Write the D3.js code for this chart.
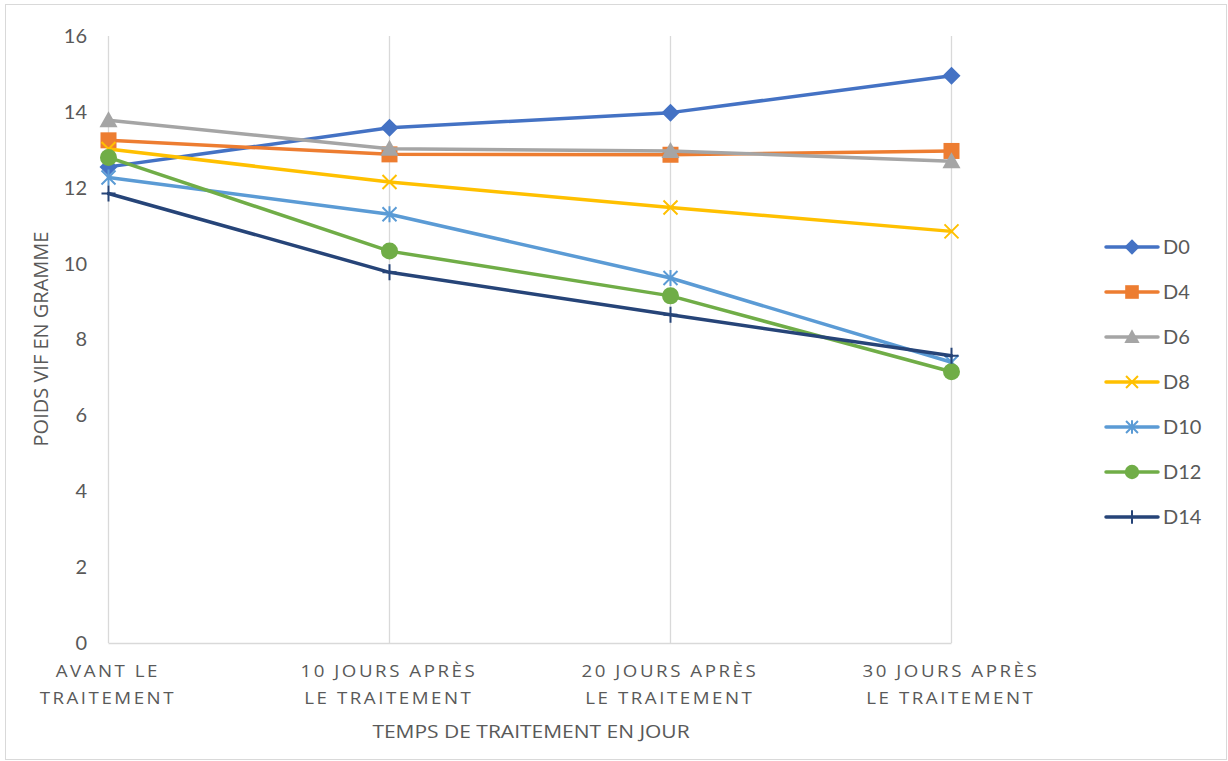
<!DOCTYPE html>
<html>
<head>
<meta charset="utf-8">
<script src="https://cdn.jsdelivr.net/npm/d3@7"></script>
<style>
  html, body { margin: 0; padding: 0; background: #fff; }
  svg { display: block; font-family: Lato, "Open Sans", sans-serif; }
</style>
</head>
<body>
<svg id="chart" width="1228" height="761"></svg>
<script>
// Time points (x categories), each split over two lines
const categories = [
  ["AVANT LE", "TRAITEMENT"],
  ["10 JOURS APRÈS", "LE TRAITEMENT"],
  ["20 JOURS APRÈS", "LE TRAITEMENT"],
  ["30 JOURS APRÈS", "LE TRAITEMENT"]
];
const seriesNames = ["D0", "D4", "D6", "D8", "D10", "D12", "D14"];
// Live weight (g) per dose group at each time point
const D0  = [12.55, 13.58, 13.98, 14.95];
const D4  = [13.25, 12.88, 12.87, 12.97];
const D6  = [13.78, 13.03, 12.97, 12.70];
const D8  = [13.02, 12.15, 11.48, 10.85];
const D10 = [12.27, 11.30, 9.62, 7.40];
const D12 = [12.80, 10.33, 9.15, 7.15];
const D14 = [11.85, 9.77, 8.65, 7.57];
const yTicks = [0, 2, 4, 6, 8, 10, 12, 14, 16];

const values = [D0, D4, D6, D8, D10, D12, D14];
const colors = ["#4472C4", "#ED7D31", "#A5A5A5", "#FFC000", "#5B9BD5", "#70AD47", "#264478"];
const markers = ["diamond", "square", "triangle", "x", "asterisk", "circle", "plus"];

const svg = d3.select("#chart");

// outer frame
svg.append("rect").attr("x", 5.5).attr("y", 4.5).attr("width", 1221).attr("height", 755)
  .attr("fill", "#fff").attr("stroke", "#d9d9d9").attr("stroke-width", 1);

const plot = { left: 108.5, right: 951.5, top: 36, bottom: 643 };

const x = d3.scalePoint().domain(d3.range(categories.length)).range([plot.left, plot.right]).padding(0);
const y = d3.scaleLinear().domain([0, 16]).range([plot.bottom, plot.top]);

// vertical gridlines at each category
svg.append("g").selectAll("line").data(d3.range(categories.length)).join("line")
  .attr("x1", d => x(d)).attr("x2", d => x(d))
  .attr("y1", plot.top).attr("y2", plot.bottom)
  .attr("stroke", "#d9d9d9").attr("stroke-width", 1.3);

// bottom axis line
svg.append("line").attr("x1", plot.left).attr("x2", plot.right)
  .attr("y1", plot.bottom + 0.5).attr("y2", plot.bottom + 0.5)
  .attr("stroke", "#d9d9d9").attr("stroke-width", 1.3);

// y axis tick labels
const yAxis = d3.axisLeft(y).tickValues(yTicks).tickSize(0).tickPadding(0).tickFormat(d3.format("d"));
const yg = svg.append("g").attr("transform", `translate(87,0)`).call(yAxis);
yg.select(".domain").remove();
yg.selectAll("text").attr("font-size", 20).attr("fill", "#595959")
  .attr("font-family", "Lato, sans-serif");

// x axis tick labels (two lines, letter spaced, slightly widened)
const xg = svg.append("g");
categories.forEach((lines, i) => {
  const t = xg.append("text").attr("text-anchor", "middle").attr("font-family", "'Open Sans', sans-serif")
    .attr("font-size", 17).attr("fill", "#595959").attr("letter-spacing", "2.3px")
    .attr("transform", `translate(${x(i) - 2},0) scale(1.1,1)`);
  lines.forEach((ln, k) => {
    t.append("tspan").attr("x", 1.2).attr("y", 677 + k * 27).text(ln);
  });
});

// axis titles
svg.append("text").attr("transform", "translate(531,738) scale(1.135,1)").attr("text-anchor", "middle")
  .attr("font-family", "'Open Sans', sans-serif")
  .attr("font-size", 18.5).attr("fill", "#595959").text("TEMPS DE TRAITEMENT EN JOUR");
svg.append("text").attr("transform", "translate(48,339) rotate(-90)").attr("text-anchor", "middle")
  .attr("font-family", "'Open Sans', sans-serif")
  .attr("font-size", 20).attr("fill", "#595959").text("POIDS VIF EN GRAMME");

// marker drawing
function drawMarker(g, type, color, cx, cy, scale) {
  const s = scale || 1;
  switch (type) {
    case "diamond":
      g.append("path").attr("d", `M${cx},${cy - 9 * s}L${cx + 9 * s},${cy}L${cx},${cy + 9 * s}L${cx - 9 * s},${cy}Z`)
        .attr("fill", color);
      break;
    case "square":
      g.append("rect").attr("x", cx - 8 * s).attr("y", cy - 8 * s)
        .attr("width", 16 * s).attr("height", 16 * s).attr("fill", color);
      break;
    case "triangle":
      g.append("path").attr("d", `M${cx},${cy - 9 * s}L${cx + 9 * s},${cy + 7 * s}L${cx - 9 * s},${cy + 7 * s}Z`)
        .attr("fill", color);
      break;
    case "x":
      g.append("path").attr("d", `M${cx - 7 * s},${cy - 7 * s}L${cx + 7 * s},${cy + 7 * s}M${cx - 7 * s},${cy + 7 * s}L${cx + 7 * s},${cy - 7 * s}`)
        .attr("stroke", color).attr("stroke-width", 2).attr("fill", "none");
      break;
    case "asterisk":
      g.append("path").attr("d", `M${cx - 7 * s},${cy - 7 * s}L${cx + 7 * s},${cy + 7 * s}M${cx - 7 * s},${cy + 7 * s}L${cx + 7 * s},${cy - 7 * s}M${cx},${cy - 8 * s}L${cx},${cy + 8 * s}`)
        .attr("stroke", color).attr("stroke-width", 2).attr("fill", "none");
      break;
    case "circle":
      g.append("circle").attr("cx", cx).attr("cy", cy).attr("r", 8.5 * s).attr("fill", color);
      break;
    case "plus":
      g.append("path").attr("d", `M${cx - 7 * s},${cy}L${cx + 7 * s},${cy}M${cx},${cy - 8 * s}L${cx},${cy + 8 * s}`)
        .attr("stroke", color).attr("stroke-width", 2).attr("fill", "none");
      break;
  }
}

// series lines and markers
const line = d3.line().x((d, i) => x(i)).y(d => y(d));
values.forEach((vals, si) => {
  const g = svg.append("g");
  g.append("path").datum(vals).attr("d", line).attr("fill", "none")
    .attr("stroke", colors[si]).attr("stroke-width", 3.5).attr("stroke-linejoin", "round").attr("stroke-linecap", "round");
  vals.forEach((v, i) => drawMarker(g, markers[si], colors[si], x(i), y(v)));
});

// legend
const lg = svg.append("g");
seriesNames.forEach((name, i) => {
  const cy = 247 + i * 45;
  lg.append("line").attr("x1", 1106).attr("x2", 1158).attr("y1", cy).attr("y2", cy)
    .attr("stroke", colors[i]).attr("stroke-width", 3.5).attr("stroke-linecap", "round");
  drawMarker(lg, markers[i], colors[i], 1132, cy, 0.85);
  lg.append("text").attr("x", 1163).attr("y", cy + 7).attr("font-size", 20)
    .attr("fill", "#595959").text(name);
});
</script>
</body>
</html>
